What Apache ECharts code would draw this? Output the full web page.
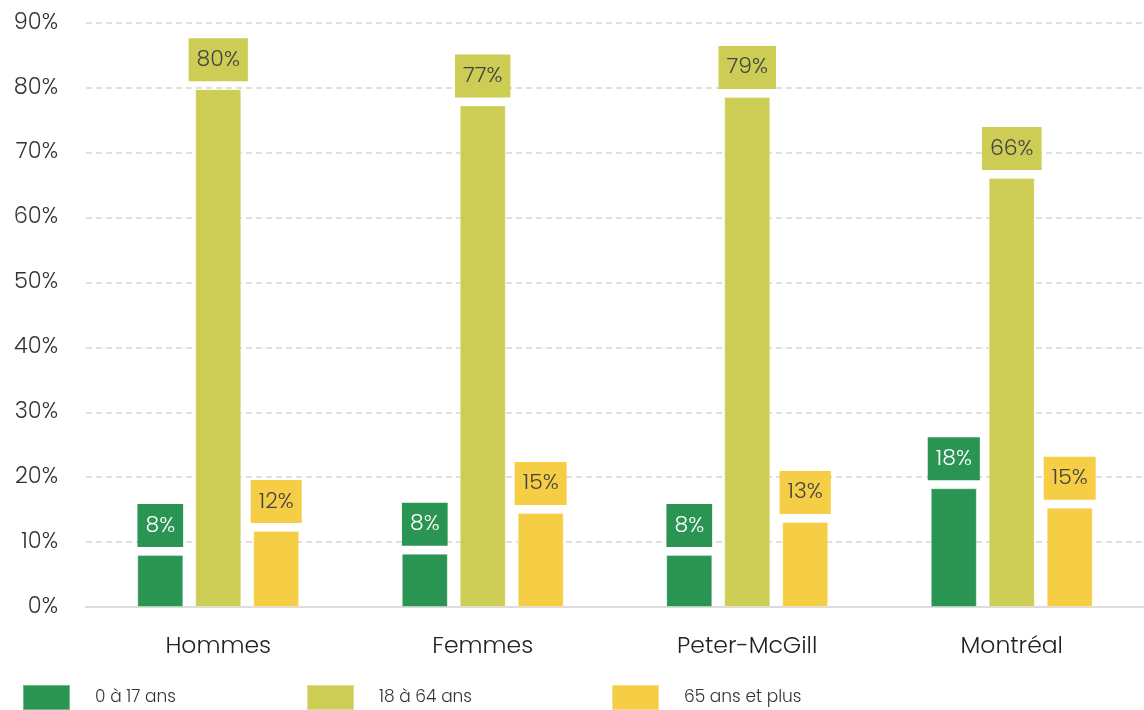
<!DOCTYPE html>
<html><head><meta charset="utf-8">
<script src="https://cdn.jsdelivr.net/npm/echarts@6/dist/echarts.min.js"></script>
<style>html,body{margin:0;padding:0;background:#fff}#c{width:1144px;height:710px}</style>
</head><body><div id="c"></div>
<script>
const categories = ['Hommes', 'Femmes', 'Peter-McGill', 'Montréal'];
const seriesNames = ['0 à 17 ans', '18 à 64 ans', '65 ans et plus'];
const young = [8.0, 8.2, 8.0, 18.3];
const adults = [79.8, 77.3, 78.6, 66.1];
const seniors = [11.7, 14.5, 13.1, 15.3];
const colors = ['#2a9452', '#cdcd56', '#f6ce45'];
const labelColors = ['#ffffff', '#444444', '#444444'];
const FONT = 'Poppins, Inter, "Noto Sans", sans-serif';

const data = [young, adults, seniors];
const chart = echarts.init(document.getElementById('c'));
const legendLefts = [22, 306, 611];
chart.setOption({
  animation: false,
  grid: { left: 86, right: 0, top: 23, bottom: 103 },
  legend: seriesNames.map((n, i) => ({
    data: [n], left: legendLefts[i], top: 684, icon: 'rect', padding: 0,
    itemWidth: 47, itemHeight: 25,
    textStyle: { fontFamily: FONT, fontSize: 17, fontWeight: 300, color: '#333', padding: [0, 0, 0, 20] }
  })),
  xAxis: {
    type: 'category', data: categories,
    axisTick: { show: false },
    axisLine: { lineStyle: { color: '#dcdcdc', width: 2 } },
    axisLabel: { fontFamily: FONT, fontSize: 23.5, fontWeight: 300, color: '#222', margin: 28 }
  },
  yAxis: {
    type: 'value', min: 0, max: 90, interval: 10,
    axisLabel: { formatter: '{value}%', fontFamily: FONT, fontSize: 22.5, fontWeight: 300, color: '#333', margin: 28 },
    splitLine: { lineStyle: { color: '#d5d5d5', type: [6, 4], width: 1.5 } }
  },
  series: seriesNames.map((n, i) => ({
    name: n, type: 'bar', data: data[i],
    barWidth: 46, barGap: '26%',
    itemStyle: { color: colors[i], borderColor: 'rgba(255,255,255,0.35)', borderWidth: 1 },
    label: {
      show: true, position: 'top', distance: 8,
      formatter: p => Math.round(p.value) + '%',
      fontFamily: FONT, fontSize: 22, fontWeight: 300, color: labelColors[i],
      backgroundColor: colors[i], padding: [11, 8, 10, 8]
    }
  }))
});
</script></body></html>
